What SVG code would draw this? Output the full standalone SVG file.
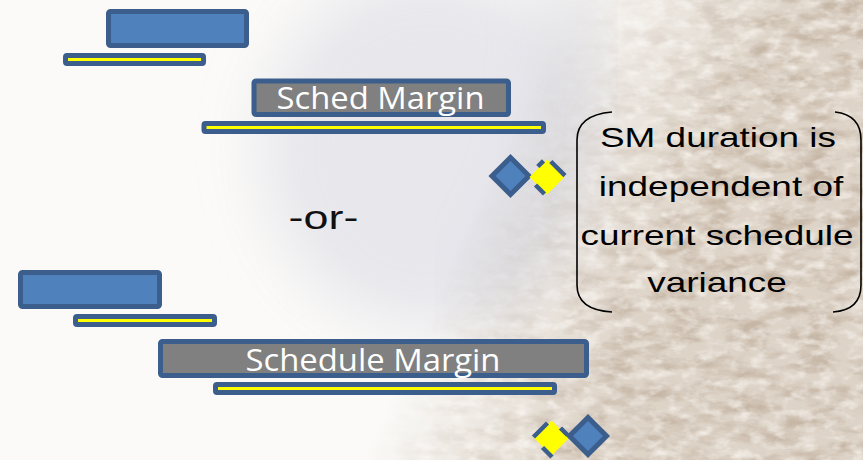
<svg xmlns="http://www.w3.org/2000/svg" width="863" height="460" viewBox="0 0 863 460">
  <style>
    .task { fill: #4F81BD; stroke: #3B5E8C; stroke-width: 5; stroke-linejoin: round; }
    .margin { fill: #808080; stroke: #3B5E8C; stroke-width: 5; stroke-linejoin: round; }
    .bar { fill: #FFFF00; stroke: #3B5E8C; stroke-width: 5; stroke-linejoin: round; }
    .ms { fill: #4F81BD; stroke: #3B5E8C; stroke-width: 5; stroke-linejoin: miter; }
    .ms-sm { fill: #FFFF00; stroke: none; }
    .ms-dash { fill: none; stroke: #3B5E8C; stroke-width: 4.5; stroke-linecap: butt; }
    .mlabel { font-family: "Open Sans", "Noto Sans", sans-serif; font-size: 31px; fill: #FFFFFF; text-anchor: middle; }
    .note { font-family: "Liberation Sans", Arial, sans-serif; font-size: 28px; fill: #000000; text-anchor: middle; }
    .or { font-family: "Liberation Sans", Arial, sans-serif; font-size: 34px; fill: #111111; text-anchor: middle; }
    .brace { fill: none; stroke: #000000; stroke-width: 1.6; }
  </style>
  <defs>
    <!-- fine grainy rock texture for the right-hand backdrop -->
    <filter id="rockNoise" x="0" y="0" width="100%" height="100%">
      <feTurbulence type="fractalNoise" baseFrequency="0.03 0.07" numOctaves="5" seed="11" result="n"/>
      <feColorMatrix in="n" type="matrix" values="0 0 0 0 0.50  0 0 0 0 0.40  0 0 0 0 0.31  2.6 0 0 0 -1.05"/>
    </filter>
    <filter id="rockLight" x="0" y="0" width="100%" height="100%">
      <feTurbulence type="fractalNoise" baseFrequency="0.06 0.1" numOctaves="3" seed="4" result="n"/>
      <feColorMatrix in="n" type="matrix" values="0 0 0 0 1  0 0 0 0 0.98  0 0 0 0 0.95  0 2.6 0 0 -1.2"/>
    </filter>
    <filter id="soft" x="-50%" y="-50%" width="200%" height="200%">
      <feGaussianBlur stdDeviation="30"/>
    </filter>
    <linearGradient id="rockFade" gradientUnits="userSpaceOnUse" x1="470" y1="223" x2="650" y2="305">
      <stop offset="0" stop-color="#000"/>
      <stop offset="1" stop-color="#fff"/>
    </linearGradient>
    <mask id="rockMask">
      <rect x="0" y="0" width="863" height="460" fill="url(#rockFade)"/>
    </mask>
  </defs>

  <!-- backdrop -->
  <g id="backdrop">
    <rect x="0" y="0" width="863" height="460" fill="#FBFAF8"/>
    <ellipse cx="430" cy="150" rx="170" ry="180" fill="#E4E4EA" filter="url(#soft)" opacity="0.85"/>
    <g mask="url(#rockMask)">
      <rect x="0" y="0" width="863" height="460" fill="#DDD3C7"/>
      <rect x="0" y="0" width="863" height="460" fill="#fff" filter="url(#rockNoise)" opacity="0.7"/>
      <rect x="0" y="0" width="863" height="460" fill="#fff" filter="url(#rockLight)" opacity="0.6"/>
    </g>
    <path d="M570,-30 C578,90 560,200 480,310" fill="none" stroke="#CCCCD3" stroke-width="40" filter="url(#soft)" opacity="0.6"/>
  </g>

  <!-- upper schedule -->
  <g id="task-a">
    <rect class="task" x="108.5" y="11.5" width="138" height="34" rx="2"/>
  </g>
  <g id="bar-a">
    <rect class="bar" x="65.5" y="55.5" width="138" height="8" rx="1.5"/>
  </g>
  <g id="sched-margin">
    <rect class="margin" x="254" y="81" width="254.5" height="33.5" rx="2"/>
    <text class="mlabel" x="380.5" y="109" textLength="208" lengthAdjust="spacingAndGlyphs">Sched Margin</text>
  </g>
  <g id="bar-b">
    <rect class="bar" x="204" y="123.5" width="339.5" height="8" rx="1.5"/>
  </g>
  <g id="milestones-a">
    <path class="ms" d="M510.5,157.5 L529,176 L510.5,194.5 L492,176 Z"/>
    <path class="ms-sm" d="M547,159.5 L564.5,177 L547,194.5 L529.5,177 Z"/>
    <path class="ms-dash" d="M550.8,161.5 L565,175.7 M544.5,194 L535.5,185 M537.8,166.5 L543.5,160.8"/>
  </g>

  <g id="or-label">
    <text class="or" transform="translate(323.5,229) scale(1.32,1)" x="0" y="0">-or-</text>
  </g>

  <!-- lower schedule -->
  <g id="task-b">
    <rect class="task" x="20.5" y="272.5" width="139" height="34" rx="2"/>
  </g>
  <g id="bar-c">
    <rect class="bar" x="75.5" y="316.5" width="139" height="8" rx="1.5"/>
  </g>
  <g id="schedule-margin">
    <rect class="margin" x="160.5" y="341.5" width="426" height="34" rx="2"/>
    <text class="mlabel" x="373" y="370.5" textLength="255" lengthAdjust="spacingAndGlyphs">Schedule Margin</text>
  </g>
  <g id="bar-d">
    <rect class="bar" x="215.5" y="384.5" width="339" height="8" rx="1.5"/>
  </g>
  <g id="milestones-b">
    <path class="ms-sm" d="M551.5,420.5 L569,438 L551.5,455.5 L534,438 Z"/>
    <path class="ms-dash" d="M533.5,437 L547.5,423 M560.5,428 L567.5,435 M552,457 L542.5,447.5"/>
    <path class="ms" d="M588,417.5 L606.5,436 L588,454.5 L569.5,436 Z"/>
  </g>

  <!-- bracketed note -->
  <g id="note">
    <path class="brace" d="M612,112 Q577,115 577,140 L577,285 Q577,310 612,312"/>
    <path class="brace" d="M835,112 Q861,115 861,140 L861,285 Q861,310 833,312"/>
    <text class="note" transform="translate(718,147) scale(1.32,1)">SM duration is</text>
    <text class="note" transform="translate(721,196) scale(1.32,1)">independent of</text>
    <text class="note" transform="translate(717,244.5) scale(1.32,1)">current schedule</text>
    <text class="note" transform="translate(717,292) scale(1.32,1)">variance</text>
  </g>

  <g id="connectors"></g>
</svg>
